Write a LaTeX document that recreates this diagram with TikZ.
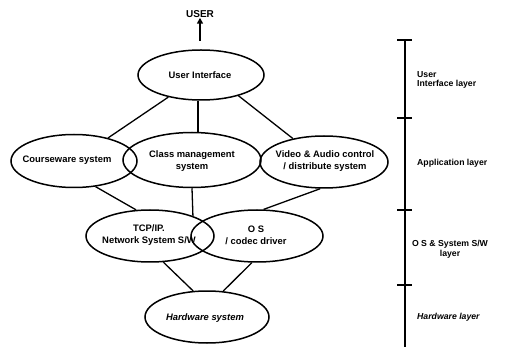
\documentclass[tikz,border=0pt]{standalone}
\usepackage{fontspec}
\setmainfont{Liberation Sans}
\usetikzlibrary{shapes.geometric,arrows.meta}
\begin{document}
\begin{tikzpicture}[x=1pt,y=-1pt,
  elli/.style={ellipse,draw,line width=1.5pt,inner sep=0pt},
  lbl/.style={font=\fontsize{9.4}{12}\selectfont\bfseries,align=center,inner sep=0pt},
  lyr/.style={font=\fontsize{8.7}{10}\selectfont\bfseries,align=left,anchor=west,inner sep=0pt},
  conn/.style={line width=1.3pt},
  bar/.style={line width=2.6pt},
  tickline/.style={line width=1.5pt}]
\useasboundingbox (0,0) rectangle (511,347);
% ellipses
\node[elli,minimum width=126pt,minimum height=50pt] (ui) at (201,75) {};
\node[elli,minimum width=126pt,minimum height=53pt] (cw) at (74,161) {};
\node[elli,minimum width=138pt,minimum height=55pt] (cm) at (192,160) {};
\node[elli,minimum width=128pt,minimum height=52pt] (va) at (324,162) {};
\node[elli,minimum width=128pt,minimum height=52pt] (tcp) at (150,236) {};
\node[elli,minimum width=132pt,minimum height=52pt] (os) at (257,236) {};
\node[elli,minimum width=124pt,minimum height=52pt] (hw) at (207,317) {};
% texts
\node[lbl] (uit) at (200,75) {User Interface};
\node[lbl] (cwt) at (67,160) {Courseware system};
\node[lbl] (cmt) at (192,161) {Class management\\system};
\node[lbl] (vat) at (325,161) {Video \& Audio control\\/ distribute system};
\node[lbl] (tcpt) at (149,235) {TCP/IP.\\Network System S/W};
\node[lbl] (ost) at (256,235) {O S\\/ codec driver};
\node[lbl,font=\fontsize{9.4}{12}\selectfont\bfseries\itshape] (hwt) at (205,318) {Hardware system};
% user
\node[lbl,font=\fontsize{10}{12}\selectfont\bfseries] (user) at (200,14) {USER};
\coordinate (ua) at (200,41);
\draw[line width=2.4pt,-{Triangle[length=6pt,width=6pt]}] (ua) -- (user.south);
% connectors
\draw[conn] (ui) -- (cw);
\draw[conn] ([xshift=-3pt]ui.south) -- ([xshift=-3pt]ui.south |- cm.north);
\draw[conn] (ui.331) -- (va.143);
\draw[conn] (cw.310) -- (tcp.118);
\draw[conn] (cm.south) -- (tcp.25);
\draw[conn] (va.262) -- (os.76);
\draw[conn] (tcp.297) -- (hw.118);
\draw[conn] (os.259) -- (hw.58);
% layer bar
\coordinate (b0) at (405,40);
\coordinate (b1) at (405,118);
\coordinate (b2) at (405,210);
\coordinate (b3) at (405,285);
\coordinate (b4) at (405,347);
\draw[bar] (b0) -- (b4);
\foreach \c in {b0,b1,b2,b3}
  \draw[tickline] ([xshift=-8pt]\c) -- ([xshift=7pt]\c);
% layer labels
\node[lyr] (l1) at (417,80) {User\\[-1pt]Interface layer};
\node[lyr] (l2) at (417,163) {Application layer};
\node[lyr,align=center,anchor=center] (l3) at (450,249) {O S \& System S/W\\layer};
\node[lyr,font=\fontsize{8.7}{10}\selectfont\bfseries\itshape] (l4) at (417,317) {Hardware layer};
\end{tikzpicture}
\end{document}
